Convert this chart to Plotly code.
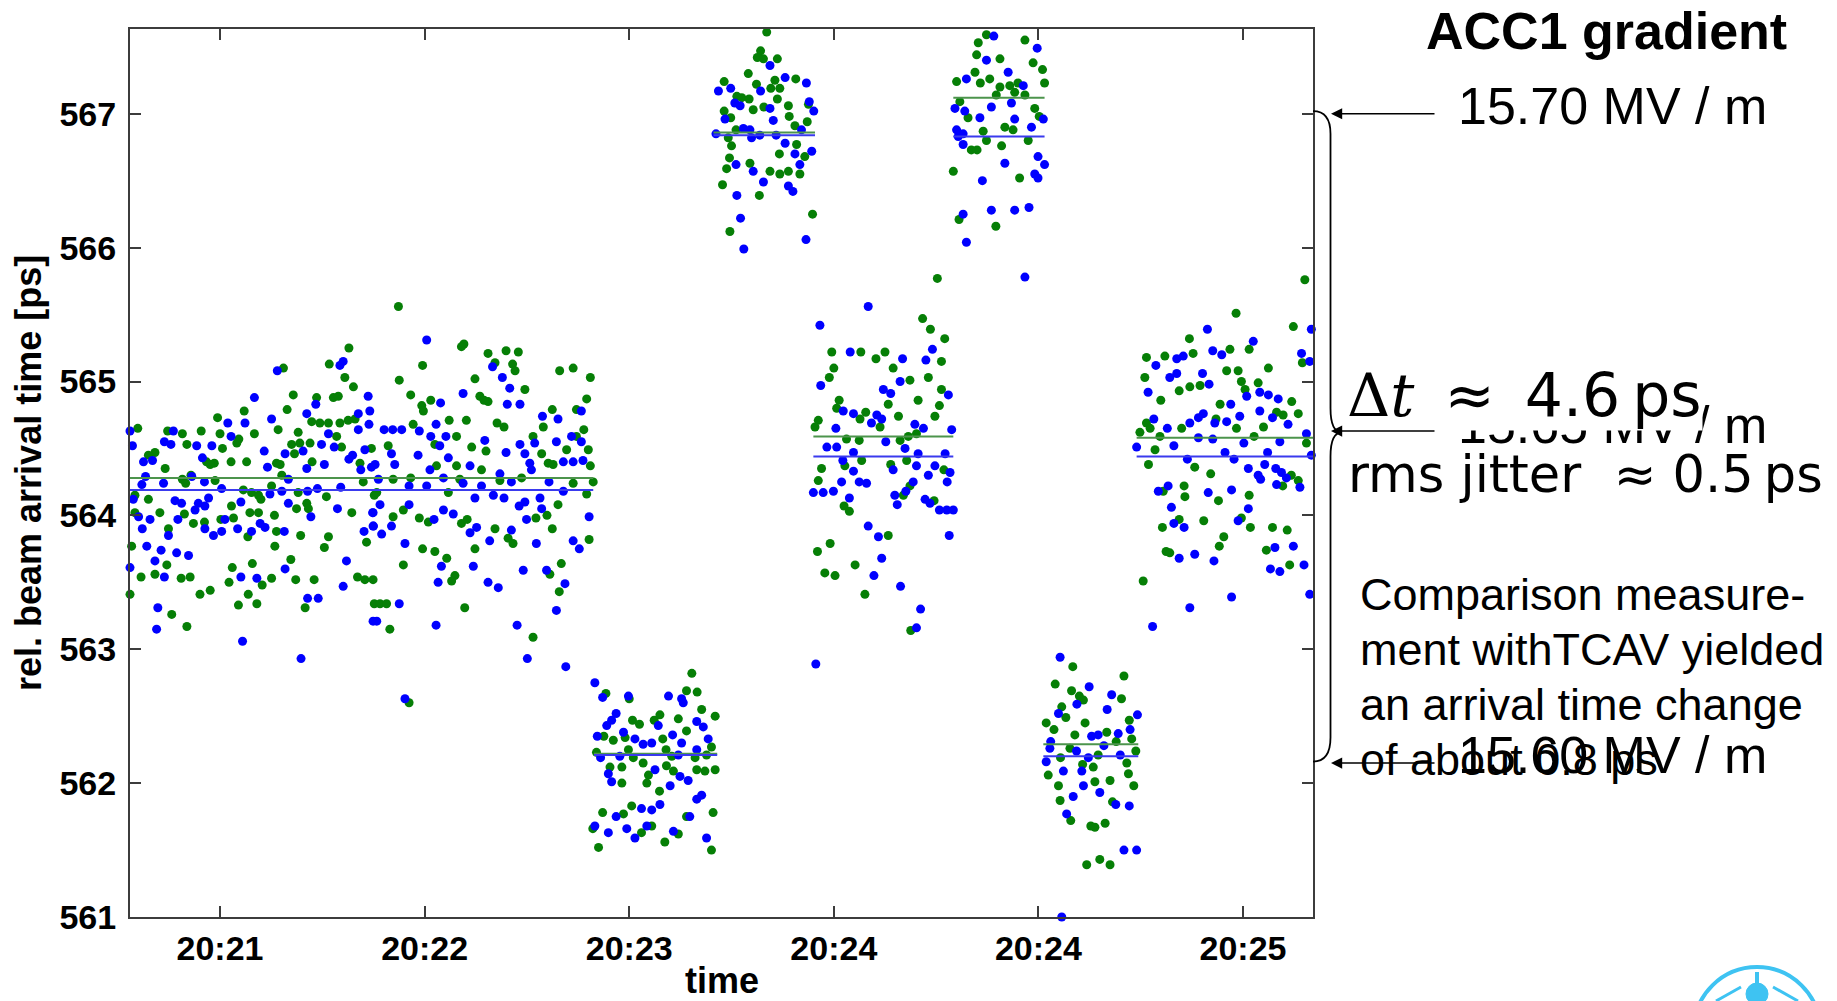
import pandas as pd
import plotly.graph_objects as go

# ---------------------------------------------------------------------------
# Beam arrival time measurements (seconds after 20:21:00, arrival time in ps)
# grouped by ACC1 gradient setting; blue and green are the two monitors
# ---------------------------------------------------------------------------
seg_a_green = [
    (66.5, 565.25), (61.7, 565.13), (50.5, 565.10), (65.5, 565.03), (67.6, 564.96), (52.9, 564.90),
    (58.6, 564.88), (62.7, 564.88), (63.9, 564.89), (51.4, 564.79), (40.9, 564.78), (34.4, 564.73),
    (57.4, 564.70), (59.4, 564.69), (61.5, 564.69), (64.3, 564.69), (66.3, 564.71), (68.0, 564.72),
    (49.2, 564.64), (14.9, 564.65), (22.2, 564.63), (25.8, 564.61), (30.4, 564.63), (35.0, 564.61),
    (39.6, 564.57), (43.4, 564.61), (54.1, 564.62), (63.5, 564.59), (26.9, 564.53), (35.6, 564.50),
    (39.1, 564.54), (52.5, 564.53), (54.5, 564.54), (57.0, 564.54), (64.7, 564.51), (72.0, 564.50),
    (19.1, 564.47), (17.5, 564.45), (53.2, 564.46), (31.7, 564.40), (33.6, 564.39), (37.7, 564.40),
    (41.5, 564.40), (48.8, 564.39), (49.7, 564.38), (57.5, 564.40), (69.2, 564.39), (21.6, 564.35),
    (32.6, 564.38), (50.1, 564.30), (27.9, 564.30), (25.8, 564.27), (26.6, 564.24), (33.8, 564.26),
    (70.0, 564.25), (47.6, 564.22), (40.7, 564.19), (54.1, 564.17), (42.7, 564.17), (44.4, 564.15),
    (14.2, 564.15), (17.5, 564.12), (37.8, 564.07), (45.0, 564.12), (53.7, 564.05), (56.2, 564.09),
    (61.0, 564.14), (72.7, 564.15), (67.2, 564.02), (56.6, 564.05), (20.3, 564.02), (14.2, 564.02),
    (26.3, 564.01), (28.5, 563.94), (31.2, 563.95), (35.2, 563.97), (38.3, 563.98), (42.3, 564.02),
    (44.4, 564.02), (48.3, 564.00), (22.4, 563.90), (41.8, 563.84), (48.8, 563.88), (54.7, 563.85),
    (61.5, 563.84), (70.8, 563.80), (13.4, 563.77), (48.4, 563.77), (60.5, 563.76), (22.0, 563.63),
    (15.7, 563.54), (19.1, 563.56), (25.5, 563.53), (27.7, 563.54), (38.0, 563.61), (42.9, 563.64),
    (45.3, 563.48), (47.6, 563.53), (52.3, 563.67), (53.5, 563.52), (58.0, 563.52), (68.6, 563.54),
    (70.4, 563.52), (72.4, 563.52), (13.0, 563.41), (30.1, 563.41), (32.6, 563.44), (37.2, 563.50),
    (41.9, 563.41), (39.5, 563.33), (44.0, 563.34), (55.8, 563.31), (23.2, 563.26), (26.9, 563.17),
    (72.7, 563.34),
    (78.6, 565.56), (94.6, 565.28), (94.0, 565.26), (84.5, 565.12), (100.5, 565.21), (104.9, 565.23),
    (107.9, 565.22), (102.2, 565.14), (106.5, 565.13), (107.1, 565.08), (118.0, 565.08), (121.3, 565.10),
    (125.5, 565.03), (78.8, 565.01), (97.3, 565.02), (109.5, 564.94), (81.6, 564.90), (98.5, 564.89),
    (100.5, 564.85), (99.5, 564.86), (124.6, 564.87), (86.5, 564.86), (84.3, 564.82), (84.7, 564.78),
    (91.0, 564.71), (95.2, 564.71), (116.2, 564.79), (122.1, 564.79), (102.7, 564.69), (104.4, 564.66),
    (82.2, 564.68), (114.0, 564.66), (123.9, 564.64), (92.8, 564.59), (111.5, 564.59), (122.1, 564.59),
    (76.1, 564.52), (87.5, 564.53), (96.5, 564.51), (100.0, 564.48), (113.6, 564.46), (119.7, 564.49),
    (125.0, 564.49), (115.2, 564.39), (116.4, 564.38), (87.9, 564.37), (92.8, 564.37), (98.9, 564.34),
    (125.5, 564.37), (77.3, 564.27), (81.6, 564.28), (93.6, 564.27), (103.4, 564.26), (108.7, 564.28),
    (121.3, 564.24), (126.2, 564.25), (73.3, 564.17), (90.8, 564.17), (124.6, 564.16), (117.6, 564.08),
    (79.8, 564.04), (77.3, 563.99), (83.7, 563.98), (85.9, 563.95), (94.0, 563.94), (95.4, 563.97),
    (102.2, 563.90), (112.2, 563.98), (114.9, 564.00), (105.4, 563.83), (106.6, 563.79), (116.2, 563.90),
    (125.2, 563.82), (84.5, 563.75), (87.5, 563.73), (97.3, 563.75), (90.4, 563.68), (79.8, 563.63),
    (92.4, 563.55), (91.6, 563.51), (115.6, 563.56), (118.4, 563.64), (117.9, 563.43), (74.1, 563.34),
    (75.7, 563.34), (94.8, 563.31), (76.5, 563.15), (111.5, 563.09), (81.2, 562.60), (129.3, 562.67),
]
seg_a_blue = [
    (65.1, 565.15), (64.3, 565.12), (49.0, 565.08), (43.4, 564.88), (58.4, 564.83), (71.2, 564.89),
    (56.2, 564.76), (47.6, 564.72), (68.8, 564.76), (71.6, 564.78), (71.4, 564.68), (36.9, 564.69),
    (41.1, 564.69), (13.0, 564.63), (23.6, 564.63), (37.7, 564.59), (61.5, 564.61), (68.8, 564.64),
    (21.4, 564.55), (23.0, 564.53), (29.3, 564.52), (33.0, 564.52), (59.8, 564.53), (62.9, 564.51),
    (70.4, 564.49), (13.6, 564.52), (45.8, 564.48), (50.9, 564.46), (55.3, 564.48), (30.7, 564.43),
    (46.6, 564.36), (56.2, 564.35), (60.5, 564.38), (67.4, 564.45), (66.5, 564.42), (72.0, 564.36),
    (16.3, 564.40), (18.5, 564.41), (69.4, 564.34), (51.7, 564.27), (28.1, 564.29), (31.2, 564.25),
    (21.2, 564.24), (16.8, 564.29), (15.9, 564.23), (58.8, 564.20), (64.5, 564.21), (35.4, 564.20),
    (50.1, 564.18), (56.4, 564.18), (47.2, 564.16), (13.8, 564.12), (24.0, 564.11), (25.6, 564.09),
    (32.2, 564.13), (31.3, 564.07), (29.7, 564.09), (28.9, 564.04), (40.1, 564.10), (51.7, 564.09),
    (63.7, 564.05), (72.4, 564.02), (15.1, 563.99), (17.9, 563.97), (24.7, 563.97), (36.2, 563.97),
    (39.3, 563.90), (44.8, 563.94), (46.0, 563.91), (31.3, 563.90), (33.4, 563.85), (35.4, 563.88),
    (22.4, 563.85), (16.0, 563.90), (42.7, 563.88), (50.7, 563.88), (57.2, 563.99), (70.2, 563.88),
    (72.4, 563.92), (17.1, 563.77), (20.6, 563.74), (19.1, 563.66), (24.4, 563.72), (27.3, 563.70),
    (13.0, 563.61), (21.4, 563.54), (40.1, 563.54), (44.0, 563.53), (50.9, 563.60), (65.9, 563.66),
    (65.1, 563.47), (56.4, 563.38), (59.0, 563.38), (19.8, 563.31), (19.5, 563.15), (40.5, 563.06),
    (54.8, 562.93), (72.4, 563.21),
    (85.5, 565.31), (101.6, 565.11), (104.0, 565.03), (105.8, 564.95), (105.2, 564.83), (108.3, 564.83),
    (94.4, 564.91), (88.9, 564.84), (113.8, 564.74), (117.6, 564.72), (123.3, 564.78), (87.8, 564.68),
    (75.1, 564.64), (77.2, 564.64), (79.4, 564.64), (83.7, 564.63), (86.5, 564.59), (90.2, 564.59),
    (99.7, 564.56), (117.2, 564.55), (120.9, 564.59), (123.3, 564.55), (108.3, 564.53), (109.5, 564.46),
    (111.9, 564.54), (76.9, 564.46), (88.7, 564.52), (83.4, 564.45), (104.9, 564.47), (90.8, 564.43),
    (110.7, 564.39), (111.1, 564.34), (72.9, 564.38), (77.7, 564.38), (96.1, 564.37), (86.3, 564.34),
    (118.9, 564.40), (121.3, 564.40), (123.7, 564.41), (73.7, 564.27), (81.2, 564.22), (85.5, 564.22),
    (89.6, 564.28), (94.4, 564.24), (98.9, 564.22), (103.4, 564.31), (106.2, 564.25), (115.4, 564.25),
    (118.9, 564.18), (97.3, 564.13), (101.8, 564.15), (104.4, 564.13), (108.1, 564.07), (109.5, 564.10),
    (113.2, 564.13), (113.6, 564.05), (74.1, 564.08), (72.3, 564.02), (81.2, 564.08), (89.6, 564.04),
    (92.0, 564.01), (72.5, 563.92), (74.5, 563.86), (76.9, 563.92), (87.3, 563.97), (96.1, 563.87),
    (97.7, 563.91), (109.9, 563.97), (106.2, 563.89), (100.9, 563.81), (112.3, 563.79), (121.3, 563.81),
    (122.8, 563.75), (125.2, 563.99), (80.2, 563.79), (89.1, 563.62), (88.3, 563.50), (96.9, 563.62),
    (100.5, 563.50), (103.0, 563.46), (109.1, 563.59), (114.8, 563.59), (119.3, 563.49), (117.2, 563.29),
    (78.8, 563.34), (73.3, 563.21), (87.8, 563.18), (107.6, 563.18), (110.1, 562.93), (119.5, 562.87),
    (80.2, 562.63), (126.6, 562.75), (128.5, 562.64),
]
seg_b_green = [
    (150.3, 562.82), (149.0, 562.69), (151.6, 562.68), (135.0, 562.63), (152.7, 562.55), (156.0, 562.50),
    (135.8, 562.47), (137.5, 562.44), (141.1, 562.47), (142.5, 562.51), (147.0, 562.48), (149.0, 562.39),
    (128.8, 562.35), (131.1, 562.32), (134.0, 562.34), (143.2, 562.33), (155.1, 562.27), (134.8, 562.25),
    (127.0, 562.23), (136.0, 562.19), (138.4, 562.15), (144.0, 562.25), (145.4, 562.20), (151.1, 562.19),
    (153.9, 562.21), (130.3, 562.12), (133.2, 562.12), (133.2, 562.00), (139.7, 562.06), (139.3, 562.00),
    (144.1, 562.13), (145.8, 562.09), (151.5, 562.10), (153.5, 562.09), (156.0, 562.10), (142.4, 561.94),
    (135.6, 561.83), (133.6, 561.77), (128.5, 561.78), (149.0, 561.75), (155.5, 561.78), (126.1, 561.66),
    (138.0, 561.63), (140.5, 561.68), (147.0, 561.62), (143.7, 561.56), (127.5, 561.52), (155.1, 561.50),
]
seg_b_blue = [
    (144.6, 562.65), (134.8, 562.65), (148.2, 562.60), (147.8, 562.63), (131.8, 562.52), (130.7, 562.47),
    (129.5, 562.43), (142.1, 562.43), (151.5, 562.46), (153.1, 562.42), (127.2, 562.35), (133.6, 562.38),
    (136.4, 562.33), (138.4, 562.29), (140.5, 562.30), (145.6, 562.36), (147.8, 562.30), (154.3, 562.33),
    (128.0, 562.19), (132.7, 562.20), (147.0, 562.21), (151.5, 562.25), (129.9, 562.07), (130.7, 562.01),
    (141.3, 562.10), (147.4, 562.05), (149.4, 562.02), (145.0, 561.98), (151.5, 561.88), (152.7, 561.91),
    (138.0, 561.81), (140.5, 561.80), (142.5, 561.84), (131.8, 561.75), (149.8, 561.75), (126.6, 561.68),
    (129.9, 561.63), (134.4, 561.66), (136.4, 561.59), (139.3, 561.68), (145.8, 561.64), (153.9, 561.59),
]
seg_c_green = [
    (168.6, 567.61), (167.1, 567.47), (166.3, 567.42), (167.8, 567.41), (171.2, 567.41), (164.1, 567.30),
    (175.7, 567.26), (158.2, 567.24), (166.1, 567.22), (169.6, 567.19), (170.6, 567.25), (171.8, 567.19),
    (161.3, 567.13), (162.5, 567.12), (164.3, 567.11), (171.2, 567.11), (165.3, 567.03), (167.9, 567.05),
    (173.9, 567.06), (158.2, 567.02), (178.8, 567.07), (174.1, 566.98), (159.8, 566.97), (178.5, 566.94),
    (161.1, 566.88), (175.5, 566.91), (159.2, 566.82), (160.0, 566.76), (175.9, 566.77), (171.7, 566.70),
    (177.9, 566.68), (159.5, 566.67), (158.8, 566.59), (164.5, 566.63), (169.4, 566.57), (171.8, 566.55),
    (173.9, 566.57), (176.7, 566.55), (157.8, 566.47), (166.8, 566.39), (179.8, 566.25), (159.6, 566.12),
]
seg_c_blue = [
    (169.4, 567.36), (173.1, 567.27), (178.3, 567.23), (156.8, 567.17), (159.8, 567.19), (167.1, 567.17),
    (160.8, 567.08), (162.1, 567.06), (169.4, 567.04), (179.0, 567.09), (180.1, 567.02), (158.4, 566.96),
    (170.2, 566.95), (162.9, 566.89), (164.5, 566.88), (156.2, 566.85), (166.9, 566.84), (164.9, 566.82),
    (170.9, 566.84), (177.1, 566.88), (173.1, 566.78), (179.6, 566.72), (175.5, 566.70), (161.1, 566.62),
    (165.3, 566.57), (176.7, 566.62), (167.8, 566.49), (173.9, 566.46), (175.0, 566.42), (161.3, 566.39),
    (162.2, 566.22), (178.2, 566.06), (163.0, 565.99),
]
seg_d_green = [
    (206.7, 565.47), (208.6, 565.39), (212.1, 565.32), (184.5, 565.22), (191.6, 565.22), (195.3, 565.17),
    (197.5, 565.22), (211.3, 565.15), (185.0, 565.10), (183.9, 565.03), (199.5, 565.10), (203.6, 565.01),
    (208.1, 565.03), (211.3, 564.94), (186.3, 564.86), (205.6, 564.86), (210.8, 564.82), (198.3, 564.83),
    (185.7, 564.80), (192.8, 564.77), (191.4, 564.72), (200.8, 564.74), (209.7, 564.74), (181.2, 564.71),
    (180.4, 564.66), (196.3, 564.66), (203.2, 564.59), (205.2, 564.61), (188.1, 564.57), (191.2, 564.56),
    (201.2, 564.56), (191.8, 564.41), (202.8, 564.41), (187.7, 564.37), (182.0, 564.35), (198.9, 564.38),
    (211.9, 564.34), (181.2, 564.26), (203.6, 564.22), (202.0, 564.15), (187.5, 564.07), (188.8, 564.03),
    (209.5, 564.11), (198.3, 563.85), (184.1, 563.79), (181.0, 563.73), (190.2, 563.63), (182.8, 563.57),
    (185.3, 563.55), (192.6, 563.41), (203.8, 563.14), (210.3, 565.77),
]
seg_d_blue = [
    (193.4, 565.56), (181.6, 565.42), (189.0, 565.22), (201.8, 565.17), (209.1, 565.24), (207.5, 565.16),
    (181.8, 564.97), (201.2, 565.00), (197.1, 564.94), (198.9, 564.91), (213.0, 564.90), (187.3, 564.78),
    (189.8, 564.76), (195.5, 564.75), (196.7, 564.72), (194.2, 564.69), (185.5, 564.65), (204.8, 564.68),
    (206.9, 564.65), (213.8, 564.64), (183.3, 564.51), (185.7, 564.51), (197.7, 564.55), (189.8, 564.47),
    (202.4, 564.50), (205.6, 564.46), (212.2, 564.46), (187.2, 564.41), (205.2, 564.37), (189.8, 564.33),
    (199.5, 564.34), (209.7, 564.37), (213.4, 564.32), (191.2, 564.25), (193.0, 564.24), (186.9, 564.25),
    (208.1, 564.30), (212.7, 564.25), (180.0, 564.17), (182.4, 564.17), (184.9, 564.18), (204.4, 564.25),
    (202.6, 564.18), (199.9, 564.15), (188.8, 564.13), (200.5, 564.08), (207.3, 564.12), (208.5, 564.09),
    (210.8, 564.04), (212.6, 564.04), (214.2, 564.04), (193.4, 563.92), (195.9, 563.84), (213.2, 563.85),
    (196.7, 563.68), (194.8, 563.55), (201.3, 563.47), (206.2, 563.30), (205.2, 563.16), (180.6, 562.89),
]
seg_e_green = [
    (222.1, 567.64), (229.8, 567.64), (222.3, 567.59), (220.3, 567.53), (231.7, 567.55), (219.9, 567.44),
    (225.6, 567.41), (233.7, 567.38), (236.0, 567.33), (219.5, 567.31), (215.0, 567.24), (220.8, 567.23),
    (223.1, 567.26), (225.6, 567.20), (228.0, 567.21), (230.0, 567.23), (236.5, 567.23), (224.7, 567.14),
    (229.2, 567.16), (231.7, 567.14), (215.8, 567.09), (234.1, 567.04), (235.2, 566.98), (217.8, 566.97),
    (226.8, 566.90), (221.5, 566.87), (228.8, 566.88), (222.3, 566.80), (232.5, 566.80), (226.0, 566.76),
    (218.6, 566.73), (220.0, 566.73), (214.2, 566.57), (230.4, 566.52), (215.6, 566.21), (224.6, 566.16),
]
seg_e_blue = [
    (224.1, 567.58), (234.7, 567.49), (222.3, 567.40), (227.6, 567.31), (217.4, 567.26), (231.3, 567.21),
    (228.4, 567.08), (214.6, 567.04), (217.0, 567.02), (223.5, 567.05), (220.7, 566.97), (236.2, 566.96),
    (229.2, 566.96), (233.3, 566.90), (215.0, 566.88), (216.6, 566.85), (215.4, 566.83), (216.6, 566.77),
    (234.9, 566.68), (236.5, 566.62), (226.8, 566.63), (234.1, 566.55), (234.9, 566.52), (221.3, 566.50),
    (216.6, 566.25), (223.5, 566.28), (229.2, 566.28), (232.7, 566.30), (217.4, 566.04), (231.7, 565.78),
]
seg_f_green = [
    (243.4, 562.87), (255.9, 562.80), (239.1, 562.74), (243.1, 562.69), (245.0, 562.65), (246.0, 562.62),
    (255.3, 562.63), (240.7, 562.57), (241.7, 562.49), (257.2, 562.47), (236.9, 562.45), (246.4, 562.45),
    (238.8, 562.40), (251.7, 562.38), (254.0, 562.31), (243.9, 562.36), (257.8, 562.33), (258.8, 562.24),
    (242.7, 562.26), (249.6, 562.21), (240.4, 562.19), (237.4, 562.06), (245.8, 562.14), (248.4, 562.12),
    (252.5, 562.02), (256.6, 562.15), (257.0, 562.07), (239.9, 561.98), (248.8, 562.01), (258.3, 561.98),
    (240.3, 561.87), (253.1, 561.86), (242.9, 561.72), (247.8, 561.68), (248.8, 561.67), (251.3, 561.70),
    (246.8, 561.39), (250.0, 561.43), (252.5, 561.39),
]
seg_f_blue = [
    (240.3, 562.94), (247.4, 562.72), (252.9, 562.66), (244.4, 562.59), (251.8, 562.55), (239.9, 562.52),
    (259.2, 562.51), (257.4, 562.40), (248.0, 562.35), (249.6, 562.36), (254.5, 562.37), (238.0, 562.31),
    (244.3, 562.24), (251.0, 562.28), (237.8, 562.26), (236.9, 562.16), (247.2, 562.19), (255.0, 562.21),
    (241.1, 562.09), (245.6, 562.09), (243.5, 561.90), (246.0, 561.98), (250.0, 561.93), (253.9, 561.84),
    (257.2, 561.83), (241.9, 561.77), (255.9, 561.50), (259.0, 561.50), (240.7, 561.00),
]
seg_g_green = [
    (300.1, 565.76), (283.3, 565.51), (297.3, 565.41), (271.9, 565.32), (286.5, 565.24), (281.8, 565.24),
    (272.8, 565.21), (261.4, 565.18), (265.9, 565.19), (299.5, 565.14), (291.2, 565.10), (281.0, 565.08),
    (283.8, 565.08), (261.0, 565.03), (284.6, 565.00), (288.7, 564.99), (272.0, 564.96), (274.5, 564.97),
    (269.4, 564.93), (285.5, 564.94), (264.9, 564.86), (296.9, 564.85), (279.4, 564.83), (293.2, 564.77),
    (294.8, 564.75), (298.5, 564.76), (278.4, 564.72), (261.4, 564.69), (270.0, 564.65), (283.4, 564.65),
    (290.0, 564.66), (259.8, 564.62), (262.3, 564.65), (264.7, 564.59), (263.5, 564.49), (287.7, 564.59),
    (300.5, 564.54), (261.9, 564.38), (273.2, 564.36), (296.8, 564.30), (298.5, 564.26), (294.7, 564.22),
    (277.1, 564.31), (265.5, 564.18), (270.6, 564.22), (270.8, 564.14), (279.0, 564.11), (286.5, 564.15),
    (269.4, 563.97), (265.3, 563.91), (275.4, 563.96), (284.6, 563.98), (286.8, 563.91), (280.3, 563.84),
    (279.2, 563.77), (292.2, 563.91), (295.8, 563.89), (290.7, 563.74), (266.2, 563.73), (267.1, 563.72),
    (296.4, 563.63), (260.6, 563.51),
]
seg_g_blue = [
    (276.3, 565.39), (301.7, 565.39), (287.5, 565.30), (277.6, 565.23), (279.8, 565.20), (268.8, 565.17),
    (270.4, 565.19), (299.3, 565.21), (301.3, 565.15), (263.7, 565.12), (267.1, 565.03), (268.8, 565.06),
    (275.1, 565.06), (276.7, 564.98), (289.1, 564.92), (291.2, 564.90), (293.6, 564.87), (261.8, 564.92),
    (285.9, 564.89), (282.0, 564.83), (289.1, 564.78), (275.3, 564.76), (274.1, 564.73), (284.2, 564.74),
    (292.2, 564.73), (263.2, 564.72), (281.0, 564.70), (278.1, 564.69), (272.0, 564.69), (296.0, 564.68),
    (266.5, 564.65), (259.0, 564.51), (268.1, 564.52), (274.1, 564.58), (277.6, 564.57), (294.0, 564.55),
    (285.2, 564.54), (300.5, 564.61), (301.7, 564.45), (280.6, 564.47), (282.8, 564.42), (291.0, 564.47),
    (271.4, 564.42), (286.3, 564.35), (290.3, 564.38), (293.0, 564.35), (288.7, 564.30), (289.3, 564.27),
    (294.4, 564.32), (295.6, 564.28), (298.9, 564.21), (293.2, 564.23), (264.3, 564.18), (266.7, 564.22),
    (276.5, 564.17), (282.2, 564.19), (267.5, 564.06), (286.3, 564.05), (268.1, 563.94), (270.6, 563.91),
    (283.8, 563.96), (297.3, 563.77), (292.8, 563.76), (269.4, 563.68), (273.2, 563.71), (277.9, 563.66),
    (291.7, 563.60), (294.0, 563.58), (299.9, 563.63), (301.3, 563.41), (282.2, 563.39), (272.0, 563.31),
    (262.9, 563.17),
]

# Mean arrival time per gradient setting: (start s, end s, mean ps)
green_means = [
    (13.0, 126.2, 564.28), (126.4, 156.5, 562.22), (155.6, 180.4, 566.86), (180.0, 214.2, 564.59),
    (214.2, 236.5, 567.12), (236.2, 259.4, 562.29), (259.0, 302.1, 564.58),
]
blue_means = [
    (13.0, 126.2, 564.19), (126.4, 156.5, 562.21), (155.6, 180.4, 566.84), (180.0, 214.2, 564.44),
    (214.2, 236.5, 566.83), (236.2, 259.4, 562.20), (259.0, 302.1, 564.44),
]

tick_seconds = [35, 85, 135, 185, 235, 285]
y_ticks = [561, 562, 563, 564, 565, 566, 567]
x_window = (13.0, 302.1)
y_window = (561.0, 567.633)

gradient_labels = ["15.70 MV / m", "15.65 MV / m", "15.60 MV / m"]
gradient_levels = [567.0, 564.63, 562.15]
comparison_lines = ["Comparison measure-", "ment withTCAV yielded",
                    "an arrival time change", "of about 0.8 ps"]

# ---------------------------------------------------------------------------
BASE = pd.Timestamp("2000-01-01 20:21:00")


def clock(seconds):
    return (BASE + pd.Timedelta(seconds=seconds)).strftime("%Y-%m-%d %H:%M:%S.%f")


def split(points):
    return [clock(t) for t, _ in points], [v for _, v in points]


green_pts = seg_a_green + seg_b_green + seg_c_green + seg_d_green + seg_e_green + seg_f_green + seg_g_green
blue_pts = seg_a_blue + seg_b_blue + seg_c_blue + seg_d_blue + seg_e_blue + seg_f_blue + seg_g_blue

BLUE = "#0000ff"
GREEN = "#067f06"

W, H = 1837, 1001
L, R, T, B = 130, 1313, 29, 917


def px(xp):
    return (xp - L) / (R - L)


def py(yp):
    return (B - yp) / (B - T)


fig = go.Figure()
for pts, col in ((green_pts, GREEN), (blue_pts, BLUE)):
    xs, ys = split(pts)
    fig.add_trace(go.Scatter(x=xs, y=ys, mode="markers", cliponaxis=False,
                             marker=dict(size=9, color=col, line=dict(width=0)),
                             showlegend=False, hoverinfo="skip"))


def mean_path(means):
    xs, ys = [], []
    for t0, t1, m in means:
        xs += [clock(t0), clock(t1), None]
        ys += [m, m, None]
    return xs, ys


for means, col in ((green_means, "#4c944c"), (blue_means, "#3a3aee")):
    xs, ys = mean_path(means)
    fig.add_trace(go.Scatter(x=xs, y=ys, mode="lines", line=dict(color=col, width=2),
                             showlegend=False, hoverinfo="skip"))

AX = "#3c3c3c"
tick_font = dict(family="Liberation Sans, Arial, sans-serif", size=34, color="black", weight="bold")

fig.update_xaxes(type="date", range=[clock(x_window[0]), clock(x_window[1])],
                 tickmode="array", tickvals=[clock(s) for s in tick_seconds], tickformat="%H:%M",
                 ticks="inside", ticklen=11, tickwidth=2, tickcolor=AX,
                 showline=True, linecolor=AX, linewidth=2, mirror="ticks",
                 showgrid=False, zeroline=False, tickfont=tick_font)
fig.update_yaxes(range=list(y_window), tickmode="array", tickvals=y_ticks,
                 ticktext=[str(v) for v in y_ticks],
                 ticks="inside", ticklen=11, tickwidth=2, tickcolor=AX,
                 showline=True, linecolor=AX, linewidth=2, mirror="ticks",
                 showgrid=False, zeroline=False, tickfont=tick_font, ticklabelstandoff=5)

title_font = dict(family="Liberation Sans, Arial, sans-serif", size=36, color="black", weight="bold")
big = dict(family="Liberation Sans, Arial, sans-serif", size=52, color="black")
latex = dict(family="DejaVu Sans, sans-serif", size=51, color="black")

ann = [
    dict(text="rel. beam arrival time [ps]", textangle=-90, x=px(28), y=0.5,
         xref="paper", yref="paper", xanchor="center", yanchor="middle",
         showarrow=False, font=title_font),
    dict(text="time", x=0.5, y=py(980), xref="paper", yref="paper",
         xanchor="center", yanchor="middle", showarrow=False, font=title_font),
    dict(text="ACC1 gradient", x=px(1424), y=py(31), xref="paper", yref="paper",
         xanchor="left", yanchor="middle", showarrow=False,
         font=dict(big, weight="bold")),
]
label_centres = [106, 425, 755]
for label, yc in zip(gradient_labels, label_centres):
    ann.append(dict(text=label, x=px(1456), y=py(yc), xref="paper", yref="paper",
                    xanchor="left", yanchor="middle", showarrow=False, font=big))

ann.append(dict(text="<span style='font-family:DejaVu Serif'>Δ<i>t</i></span>\u2002≈\u20024.6\u2009ps",
                x=px(1346), y=py(395), xref="paper", yref="paper",
                xanchor="left", yanchor="middle", showarrow=False,
                bgcolor="white", borderpad=0, font=dict(latex, size=60)))
ann.append(dict(text="rms jitter\u00a0\u00a0≈ 0.5\u2009ps", x=px(1346), y=py(474),
                xref="paper", yref="paper", xanchor="left", yanchor="middle",
                showarrow=False, font=latex))

for i, line in enumerate(comparison_lines):
    ann.append(dict(text=line, x=px(1358), y=py(594 + 55 * i), xref="paper", yref="paper",
                    xanchor="left", yanchor="middle", showarrow=False,
                    font=dict(family="Liberation Sans, Arial, sans-serif", size=45, color="black")))

# arrows pointing from the gradient labels to the brace
for level in gradient_levels:
    ann.append(dict(text="", x=px(1331), y=level, xref="paper", yref="y",
                    ax=105, ay=0, showarrow=True, arrowhead=2, arrowsize=1.4,
                    arrowwidth=1.6, arrowcolor="black"))

bx, cx = px(1330.5), px(1342)
brace = (f"M 1.0,567.02 Q {bx},567.02 {bx},566.85 L {bx},564.80 "
         f"Q {bx},564.62 {cx},564.62 Q {bx},564.62 {bx},564.44 L {bx},562.34 "
         f"Q {bx},562.16 1.0,562.16")

CYAN = "#3ec3f2"
shapes = [
    dict(type="path", path=brace, xref="paper", yref="y", layer="above",
         line=dict(color="black", width=1.8)),
    # institute logo, cut by the page edge
    dict(type="circle", xref="paper", yref="paper", x0=px(1694), x1=px(1820),
         y0=py(1092), y1=py(967), line=dict(color=CYAN, width=4)),
    dict(type="circle", xref="paper", yref="paper", x0=px(1746), x1=px(1768),
         y0=py(1005), y1=py(983), fillcolor=CYAN, line=dict(color=CYAN, width=1)),
    dict(type="line", xref="paper", yref="paper", x0=px(1757), x1=px(1757),
         y0=py(972), y1=py(986), line=dict(color=CYAN, width=4)),
    dict(type="line", xref="paper", yref="paper", x0=px(1716), x1=px(1741),
         y0=py(1001), y1=py(987), line=dict(color=CYAN, width=3)),
    dict(type="line", xref="paper", yref="paper", x0=px(1773), x1=px(1798),
         y0=py(987), y1=py(1001), line=dict(color=CYAN, width=3)),
]

fig.update_layout(width=W, height=H, margin=dict(l=L, r=W - R, t=T, b=H - B),
                  paper_bgcolor="white", plot_bgcolor="white",
                  annotations=ann, shapes=shapes, showlegend=False)

fig.write_html("out.html")
